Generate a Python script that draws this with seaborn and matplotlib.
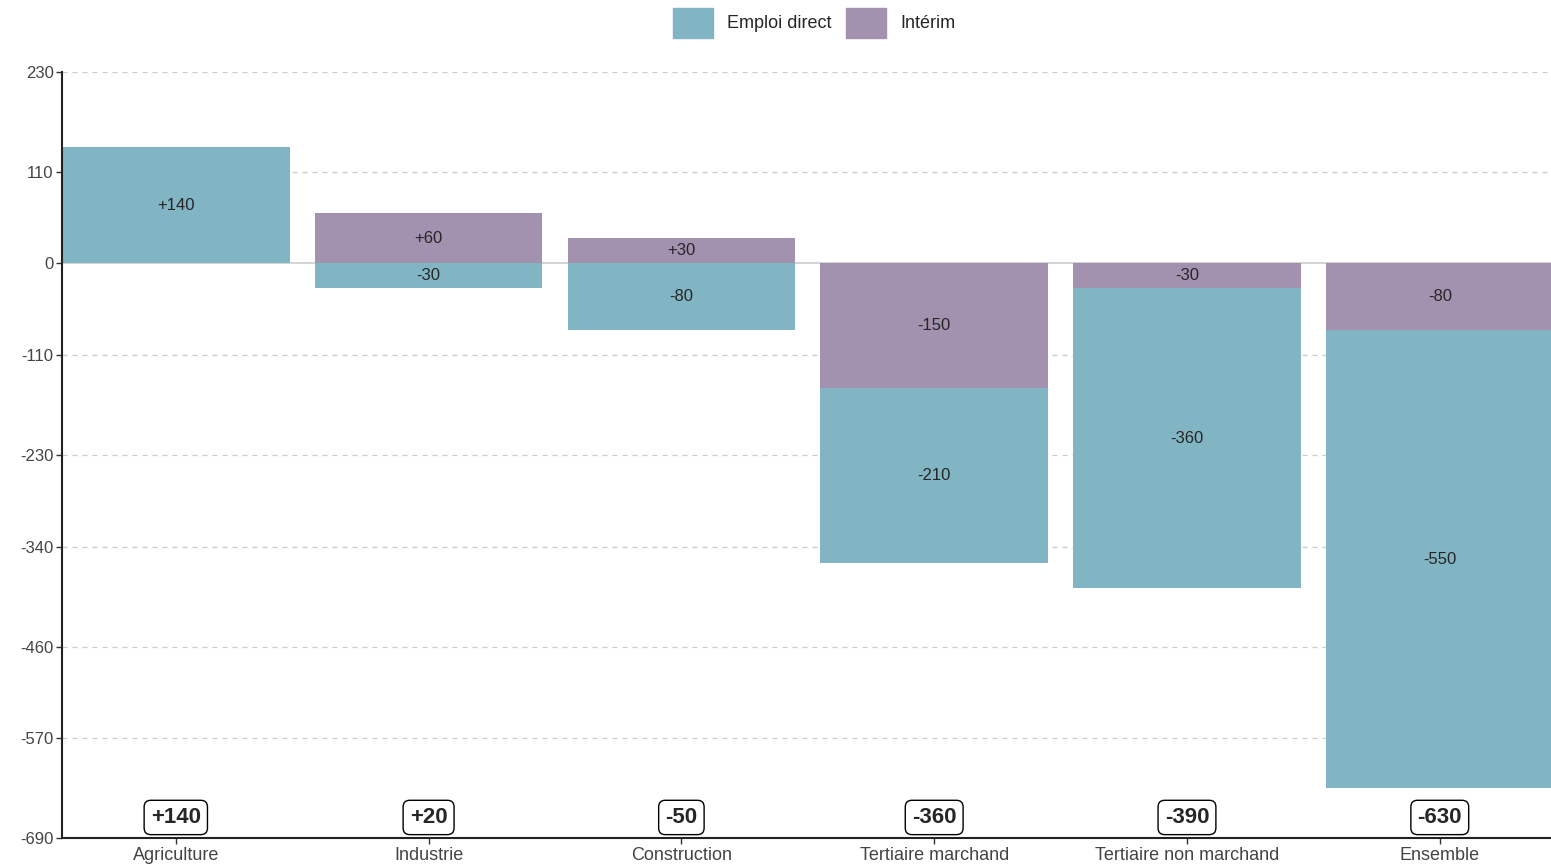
import matplotlib
matplotlib.use("Agg")
import matplotlib.pyplot as plt
import seaborn as sns
import numpy as np
from matplotlib.patches import Patch

sns.set_theme(style="white")
plt.rcParams['font.family'] = ['Liberation Sans', 'DejaVu Sans']

# données
secteurs = ["Agriculture", "Industrie", "Construction", "Tertiaire marchand",
            "Tertiaire non marchand", "Ensemble"]
emploi_direct = [140, -30, -80, -210, -360, -550]
interim = [0, 60, 30, -150, -30, -80]
totaux = ["+140", "+20", "-50", "-360", "-390", "-630"]
yticks = [230, 110, 0, -110, -230, -340, -460, -570, -690]

c_direct = "#82b5c3"
c_interim = "#a391b0"

fig, ax = plt.subplots(figsize=(15.51, 8.66), dpi=100)
fig.subplots_adjust(left=0.04, right=1.0, top=0.917, bottom=0.032)

x = np.arange(len(secteurs))
w = 0.9
kw = dict(linewidth=0, edgecolor="none")
for i in x:
    d, t = emploi_direct[i], interim[i]
    # intérim collé à zéro, emploi direct en dessous si les deux sont négatifs
    if t < 0 and d < 0:
        ax.bar(i, t, w, bottom=0, color=c_interim, **kw)
        ax.bar(i, d, w, bottom=t, color=c_direct, **kw)
        ax.text(i, t / 2, f"{t:+d}", ha="center", va="center", fontsize=12)
        ax.text(i, t + d / 2, f"{d:+d}", ha="center", va="center", fontsize=12)
    else:
        ax.bar(i, d, w, bottom=0, color=c_direct, **kw)
        ax.text(i, d / 2, f"{d:+d}", ha="center", va="center", fontsize=12)
        if t != 0:
            ax.bar(i, t, w, bottom=0, color=c_interim, **kw)
            ax.text(i, t / 2, f"{t:+d}", ha="center", va="center", fontsize=12)
    ax.text(i, -665, totaux[i], ha="center", va="center", fontsize=16, fontweight="bold",
            bbox=dict(boxstyle="round,pad=0.3", fc="white", ec="black", lw=1))

ax.axhline(0, color="#cccccc", lw=1.2, zorder=0)
for yv in yticks:
    if yv != 0:
        ax.axhline(yv, color="#cccccc", lw=0.9, ls=(0, (4, 4)), zorder=0)

ax.set_xlim(-0.45, 5.44)
ax.set_ylim(-690, 230)
ax.set_yticks(yticks)
ax.set_yticklabels([str(v) for v in yticks], fontsize=12, color="#444444")
ax.set_xticks(x)
ax.set_xticklabels(secteurs, fontsize=13, color="#444444")
ax.tick_params(axis="both", length=4, width=1, color="#333333", pad=2)
ax.tick_params(axis="y", left=True)
ax.tick_params(axis="x", bottom=True)
for s in ["top", "right"]:
    ax.spines[s].set_visible(False)
for s in ["left", "bottom"]:
    ax.spines[s].set_color("#222222")
    ax.spines[s].set_linewidth(1.5)

handles = [Patch(color=c_direct, label="Emploi direct"), Patch(color=c_interim, label="Intérim")]
fig.legend(handles=handles, loc="upper center", ncol=2, frameon=False, fontsize=13,
           bbox_to_anchor=(0.525, 1.01), handlelength=2.2, handleheight=2.2,
           columnspacing=0.8, handletextpad=0.8)

fig.savefig("out.png", dpi=100)
